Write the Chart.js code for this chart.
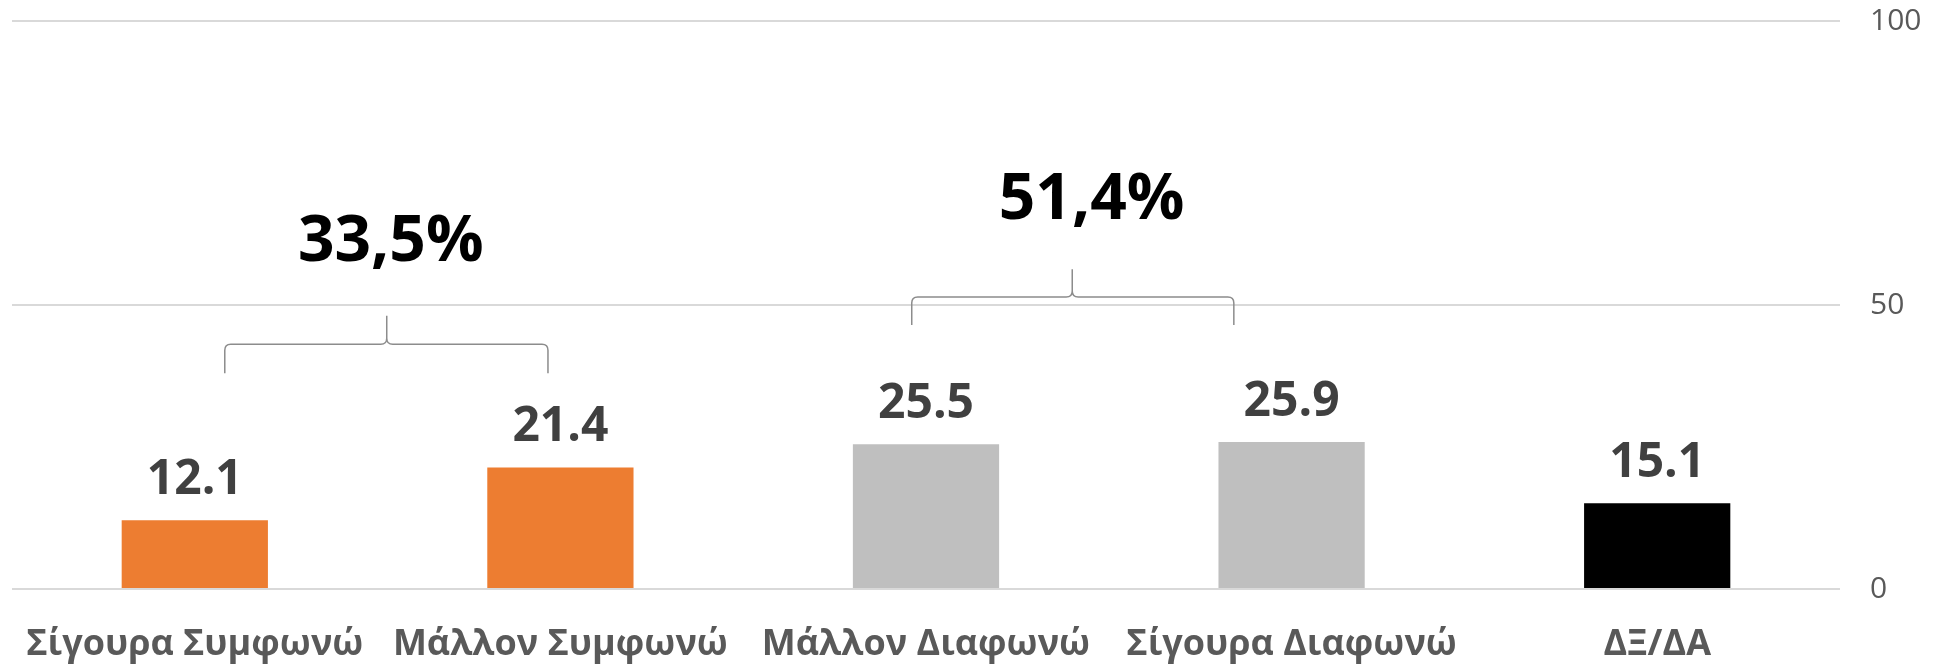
<!DOCTYPE html>
<html>
<head>
<meta charset="utf-8">
<script src="https://cdn.jsdelivr.net/npm/chart.js@4"></script>
<style>
  html, body { margin: 0; padding: 0; background: #fff; }
  #wrap { width: 1934px; height: 666px; }
</style>
</head>
<body>
<div id="wrap"><canvas id="surveyChart"></canvas></div>
<script>
// Datos
const categories = ['Σίγουρα Συμφωνώ', 'Μάλλον Συμφωνώ', 'Μάλλον Διαφωνώ', 'Σίγουρα Διαφωνώ', 'ΔΞ/ΔΑ'];
const percentages = [12.1, 21.4, 25.5, 25.9, 15.1];
const barColors = ['#ED7D31', '#ED7D31', '#BFBFBF', '#BFBFBF', '#000000'];
const yTicks = [0, 50, 100];
const groupLabels = ['33,5%', '51,4%'];

const FONT = "'Open Sans', 'Noto Sans', sans-serif";

// etiquetas de valor encima de cada barra
const valueLabels = {
  id: 'valueLabels',
  afterDatasetsDraw(chart) {
    const ctx = chart.ctx;
    const meta = chart.getDatasetMeta(0);
    ctx.save();
    ctx.font = 'bold 48px ' + FONT;
    ctx.fillStyle = '#404040';
    ctx.textAlign = 'center';
    ctx.textBaseline = 'alphabetic';
    meta.data.forEach((bar, i) => {
      ctx.fillText(percentages[i].toFixed(1), bar.x, bar.y - 26);
    });
    ctx.restore();
  }
};

// llaves y totales por grupo
const braces = {
  id: 'braces',
  afterDraw(chart) {
    const x = chart.scales.x, y = chart.scales.y;
    const ctx = chart.ctx;
    const groups = [
      { from: 0.082, to: 0.966, tip: 0.525, bottom: 38.0, mid: 43.1, top: 48.1, tx: 0.536, ty: 60.9 },
      { from: 1.961, to: 2.842, tip: 2.40, bottom: 46.5, mid: 51.4, top: 56.3, tx: 2.453, ty: 68.3 }
    ];
    ctx.save();
    groups.forEach((g, i) => {
      const x1 = x.getPixelForValue(g.from), x2 = x.getPixelForValue(g.to), xm = x.getPixelForValue(g.tip);
      const yb = y.getPixelForValue(g.bottom), ym = y.getPixelForValue(g.mid), yt = y.getPixelForValue(g.top);
      const r = 6;
      ctx.strokeStyle = '#8c8c8c';
      ctx.lineWidth = 1.5;
      ctx.beginPath();
      ctx.moveTo(x1, yb);
      ctx.lineTo(x1, ym + r);
      ctx.quadraticCurveTo(x1, ym, x1 + r, ym);
      ctx.lineTo(xm - r, ym);
      ctx.quadraticCurveTo(xm, ym, xm, ym - r);
      ctx.lineTo(xm, yt);
      ctx.moveTo(xm, ym - r);
      ctx.quadraticCurveTo(xm, ym, xm + r, ym);
      ctx.lineTo(x2 - r, ym);
      ctx.quadraticCurveTo(x2, ym, x2, ym + r);
      ctx.lineTo(x2, yb);
      ctx.stroke();

      ctx.font = 'bold 64px ' + FONT;
      ctx.fillStyle = '#000000';
      ctx.textAlign = 'center';
      ctx.textBaseline = 'middle';
      ctx.fillText(groupLabels[i], x.getPixelForValue(g.tx), y.getPixelForValue(g.ty));
    });
    ctx.restore();
  }
};

new Chart(document.getElementById('surveyChart').getContext('2d'), {
  type: 'bar',
  data: {
    labels: categories,
    datasets: [{
      data: percentages,
      backgroundColor: barColors,
      borderWidth: 0,
      categoryPercentage: 1,
      barPercentage: 0.4
    }]
  },
  options: {
    responsive: true,
    maintainAspectRatio: false,
    animation: false,
    layout: { padding: { top: 21, left: 12, right: 0, bottom: 0 } },
    plugins: { legend: { display: false }, tooltip: { enabled: false } },
    scales: {
      x: {
        grid: { display: false },
        border: { display: false },
        ticks: { color: '#595959', font: { family: FONT, size: 36, weight: 'bold' }, padding: 26, maxRotation: 0 },
        afterFit(s) { s.height = 77; s.paddingLeft = 0; s.paddingRight = 0; }
      },
      y: {
        position: 'right',
        min: 0,
        max: 100,
        afterBuildTicks(s) { s.ticks = yTicks.map(v => ({ value: v })); },
        grid: { color: '#d9d9d9', lineWidth: 2, drawTicks: false },
        border: { display: false },
        ticks: { color: '#595959', font: { family: FONT, size: 30 }, padding: 30 },
        afterFit(s) { s.width = 94; s.paddingTop = 0; s.paddingBottom = 0; }
      }
    }
  },
  plugins: [valueLabels, braces]
});
</script>
</body>
</html>
